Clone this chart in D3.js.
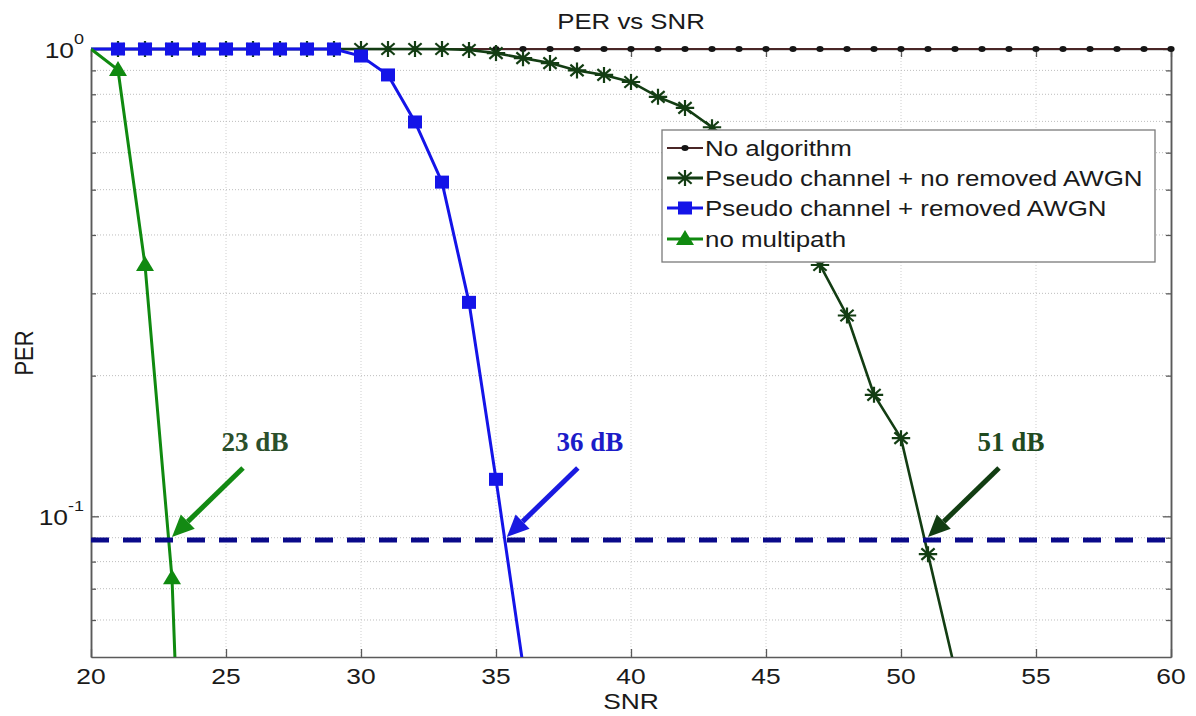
<!DOCTYPE html>
<html>
<head>
<meta charset="utf-8">
<script src="https://cdn.jsdelivr.net/npm/d3@7"></script>
<style>
  html, body { margin: 0; padding: 0; background: #fff; }
  svg { display: block; }
</style>
</head>
<body>
<svg id="chart" width="1196" height="716"></svg>
<script>
// ---------------- DATA ----------------
const noAlgSNR = [20,21,22,23,24,25,26,27,28,29,30,31,32,33,34,35,36,37,38,39,40,41,42,43,44,45,46,47,48,49,50,51,52,53,54,55,56,57,58,59,60];
const noAlgPER = [1,1,1,1,1,1,1,1,1,1,1,1,1,1,1,1,1,1,1,1,1,1,1,1,1,1,1,1,1,1,1,1,1,1,1,1,1,1,1,1,1];

const noRemSNR = [20,21,22,23,24,25,26,27,28,29,30,31,32,33,34,35,36,37,38,39,40,41,42,43,44,45,46,47,48,49,50,51,52];
const noRemPER = [1,1,1,1,1,1,1,1,1,1,1,1,1,1,0.995,0.98,0.956,0.933,0.90,0.88,0.85,0.79,0.748,0.68,0.614,0.537,0.441,0.345,0.269,0.182,0.147,0.083,0.047];

const remSNR = [20,21,22,23,24,25,26,27,28,29,30,31,32,33,34,35,36];
const remPER = [1,1,1,1,1,1,1,1,1,1,0.966,0.88,0.698,0.519,0.287,0.12,0.048];

const noMpSNR = [20,21,22,23,24];
const noMpPER = [1,0.902,0.345,0.0737,0.002];

const seriesNames = ["No algorithm", "Pseudo channel + no removed AWGN", "Pseudo channel + removed AWGN", "no multipath"];

const xTicks = [20,25,30,35,40,45,50,55,60];
const yDecades = [1, 0.1];
const yDecadeExp = ["0", "-1"];
const yMinor = [0.06,0.07,0.08,0.09,0.2,0.3,0.4,0.5,0.6,0.7,0.8,0.9];

const thresholdPER = 0.089;
const annoSNR = [23, 35.4, 51];
const annoText = ["23 dB", "36 dB", "51 dB"];

const titleText = "PER vs SNR";
const xLabel = "SNR";
const yLabel = "PER";

// ---------------- LAYOUT / STYLE ----------------
const L = 91, R = 1171, T = 49, B = 657;
const SX = 1.2; // horizontal stretch of the original picture
const sans = "'Liberation Sans', Arial, sans-serif";
const serif = "'Liberation Serif', 'Times New Roman', serif";
const txtCol = "#1a1a1a";

const colNoAlg = "#4a2626", colNoAlgDot = "#151515";
const colNoRem = "#133d13";
const colRem = "#1414e8";
const colNoMp = "#108a10";
const annoCol = ["#138a13", "#1a1ae0", "#123d12"];
const annoTxtCol = ["#2b4f2b", "#1c1cc8", "#1f4a1f"];

const svg = d3.select("#chart");
const x = d3.scaleLinear().domain([20, 60]).range([L, R]);
const y = d3.scaleLog().domain([0.05, 1]).range([B, T]);

function stext(g, px, py, str, size, anchor, opts = {}) {
  return g.append("text")
    .attr("transform", `translate(${px},${py}) scale(${SX},1)` + (opts.rotate ? ` rotate(${opts.rotate})` : ""))
    .attr("text-anchor", anchor)
    .attr("font-family", opts.family || sans)
    .attr("font-size", size)
    .attr("font-weight", opts.weight || "normal")
    .attr("fill", opts.fill || txtCol)
    .text(str);
}

svg.append("defs").append("clipPath").attr("id", "plotclip")
  .append("rect").attr("x", L).attr("y", T - 10).attr("width", R - L + 10).attr("height", B - T + 10);

// ---------------- GRID ----------------
const grid = svg.append("g");
grid.selectAll(".vg").data(xTicks.filter(v => v > 20 && v < 60)).join("line")
  .attr("x1", d => x(d)).attr("x2", d => x(d)).attr("y1", T).attr("y2", B)
  .attr("stroke", "#cfcfcf").attr("stroke-width", 1).attr("stroke-dasharray", "1,2");
grid.selectAll(".hg").data(yMinor.concat([0.1])).join("line")
  .attr("x1", L).attr("x2", R).attr("y1", d => y(d)).attr("y2", d => y(d))
  .attr("stroke", "#bdbdbd").attr("stroke-width", 1).attr("stroke-dasharray", "1,2");

// ---------------- AXES (ticks inward) ----------------
const axCol = "#5a5a5a";
const gB = svg.append("g").attr("transform", `translate(0,${B})`)
  .call(d3.axisBottom(x).tickValues(xTicks).tickSizeInner(-8).tickSizeOuter(0).tickFormat(""));
const gT = svg.append("g").attr("transform", `translate(0,${T})`)
  .call(d3.axisTop(x).tickValues(xTicks).tickSizeInner(-8).tickSizeOuter(0).tickFormat(""));
const gL = svg.append("g").attr("transform", `translate(${L},0)`)
  .call(d3.axisLeft(y).tickValues(yDecades).tickSizeInner(-8).tickSizeOuter(0).tickFormat(""));
const gL2 = svg.append("g").attr("transform", `translate(${L},0)`)
  .call(d3.axisLeft(y).tickValues(yMinor).tickSizeInner(-5).tickSizeOuter(0).tickFormat(""));
const gR = svg.append("g").attr("transform", `translate(${R},0)`)
  .call(d3.axisRight(y).tickValues(yDecades).tickSizeInner(-8).tickSizeOuter(0).tickFormat(""));
const gR2 = svg.append("g").attr("transform", `translate(${R},0)`)
  .call(d3.axisRight(y).tickValues(yMinor).tickSizeInner(-5).tickSizeOuter(0).tickFormat(""));
[gB, gT, gL, gL2, gR, gR2].forEach(g => {
  g.selectAll("path").attr("stroke", axCol).attr("stroke-width", 1.5);
  g.selectAll("line").attr("stroke", axCol).attr("stroke-width", 1.3);
});

// tick labels
const labG = svg.append("g");
xTicks.forEach(v => stext(labG, x(v), B + 27, String(v), 22, "middle"));
yDecades.forEach((v, i) => {
  const t = labG.append("text")
    .attr("transform", `translate(${L - 7},${y(v) + 9}) scale(${SX},1)`)
    .attr("text-anchor", "end")
    .attr("font-family", sans).attr("font-size", 22).attr("fill", txtCol);
  t.append("tspan").text("10");
  t.append("tspan").attr("dy", -14).attr("font-size", 15).text(yDecadeExp[i]);
});

// titles
stext(svg, (L + R) / 2, 29, titleText, 21.5, "middle");
stext(svg, (L + R) / 2, 709, xLabel, 22, "middle");
stext(svg, 33, (T + B) / 2, yLabel, 22, "middle", { rotate: -90 });

// ---------------- SERIES ----------------
const plot = svg.append("g").attr("clip-path", "url(#plotclip)");
const line = d3.line().x(d => x(d.x)).y(d => y(Math.max(d.y, 1e-4)));
const mk = (xs, ys) => xs.map((v, i) => ({ x: v, y: ys[i] }));
const visible = d => d.x > x.domain()[0];

const starPath = (s) => {
  const h = s * 1.15, d = s * 0.72, dx = d * 1.15;
  return `M${-h},0L${h},0M0,${-s}L0,${s}M${-dx},${-d}L${dx},${d}M${-dx},${d}L${dx},${-d}`;
};
const triPath = "M0,-9L9,6L-9,6Z";

// No algorithm
const dNoAlg = mk(noAlgSNR, noAlgPER);
plot.append("path").datum(dNoAlg).attr("d", line).attr("fill", "none")
  .attr("stroke", colNoAlg).attr("stroke-width", 2.2);
plot.selectAll(".dotNA").data(dNoAlg.filter(visible)).join("ellipse")
  .attr("cx", d => x(d.x)).attr("cy", d => y(d.y)).attr("rx", 3.6).attr("ry", 3)
  .attr("fill", colNoAlgDot);

// Pseudo channel + no removed AWGN
const dNoRem = mk(noRemSNR, noRemPER);
plot.append("path").datum(dNoRem).attr("d", line).attr("fill", "none")
  .attr("stroke", colNoRem).attr("stroke-width", 2.6);
plot.selectAll(".starNR").data(dNoRem.filter(visible)).join("path")
  .attr("transform", d => `translate(${x(d.x)},${y(d.y)})`)
  .attr("d", starPath(8)).attr("fill", "none").attr("stroke", colNoRem).attr("stroke-width", 2.2);

// Pseudo channel + removed AWGN
const dRem = mk(remSNR, remPER);
plot.append("path").datum(dRem).attr("d", line).attr("fill", "none")
  .attr("stroke", colRem).attr("stroke-width", 3);
plot.selectAll(".sqR").data(dRem.filter(visible)).join("rect")
  .attr("x", d => x(d.x) - 7).attr("y", d => y(d.y) - 6.5).attr("width", 14).attr("height", 13)
  .attr("fill", colRem);

// no multipath
const dNoMp = mk(noMpSNR, noMpPER);
plot.append("path").datum(dNoMp).attr("d", line).attr("fill", "none")
  .attr("stroke", colNoMp).attr("stroke-width", 3);
plot.selectAll(".triM").data(dNoMp.filter(visible)).join("path")
  .attr("transform", d => `translate(${x(d.x)},${y(d.y)})`)
  .attr("d", triPath).attr("fill", colNoMp);

// ---------------- THRESHOLD + ANNOTATIONS ----------------
svg.append("line")
  .attr("x1", x(20)).attr("x2", x(60)).attr("y1", y(thresholdPER)).attr("y2", y(thresholdPER))
  .attr("stroke", "#0a0a8a").attr("stroke-width", 5).attr("stroke-dasharray", "18,14");

annoSNR.forEach((s, i) => {
  const hx = x(s), hy = y(thresholdPER) - 3;
  const tx = hx + 71, ty = hy - 69;
  const ang = Math.atan2(hy - ty, hx - tx);
  const hl = 22, hw = 10;
  const bx = hx - hl * Math.cos(ang), by = hy - hl * Math.sin(ang);
  const g = svg.append("g");
  g.append("line").attr("x1", tx).attr("y1", ty).attr("x2", bx).attr("y2", by)
    .attr("stroke", annoCol[i]).attr("stroke-width", 5);
  const px = -Math.sin(ang), py = Math.cos(ang);
  g.append("path")
    .attr("d", `M${hx},${hy}L${bx + px * hw},${by + py * hw}L${bx - px * hw},${by - py * hw}Z`)
    .attr("fill", annoCol[i]);
  g.append("text").attr("x", tx + 12).attr("y", 451)
    .attr("text-anchor", "middle").attr("font-family", serif).attr("font-weight", "bold")
    .attr("font-size", 27).attr("fill", annoTxtCol[i]).text(annoText[i]);
});

// ---------------- LEGEND ----------------
const lg = svg.append("g");
lg.append("rect").attr("x", 662).attr("y", 130).attr("width", 493).attr("height", 132)
  .attr("fill", "#fff").attr("stroke", "#7a7a7a").attr("stroke-width", 1.3);
const legRows = [148, 178, 208, 239];
const legCols = [colNoAlg, colNoRem, colRem, colNoMp];
seriesNames.forEach((name, i) => {
  const yy = legRows[i];
  lg.append("line").attr("x1", 667).attr("x2", 703).attr("y1", yy).attr("y2", yy)
    .attr("stroke", legCols[i]).attr("stroke-width", i === 0 ? 2.2 : 2.8);
  const cx = 685;
  if (i === 0) {
    lg.append("ellipse").attr("cx", cx).attr("cy", yy).attr("rx", 3.6).attr("ry", 3).attr("fill", colNoAlgDot);
  } else if (i === 1) {
    lg.append("path").attr("transform", `translate(${cx},${yy})`).attr("d", starPath(8))
      .attr("fill", "none").attr("stroke", colNoRem).attr("stroke-width", 2.2);
  } else if (i === 2) {
    lg.append("rect").attr("x", cx - 7).attr("y", yy - 6.5).attr("width", 14).attr("height", 13).attr("fill", colRem);
  } else {
    lg.append("path").attr("transform", `translate(${cx},${yy})`).attr("d", triPath).attr("fill", colNoMp);
  }
  stext(lg, 705, yy + 8, name, 21.6, "start");
});
</script>
</body>
</html>
